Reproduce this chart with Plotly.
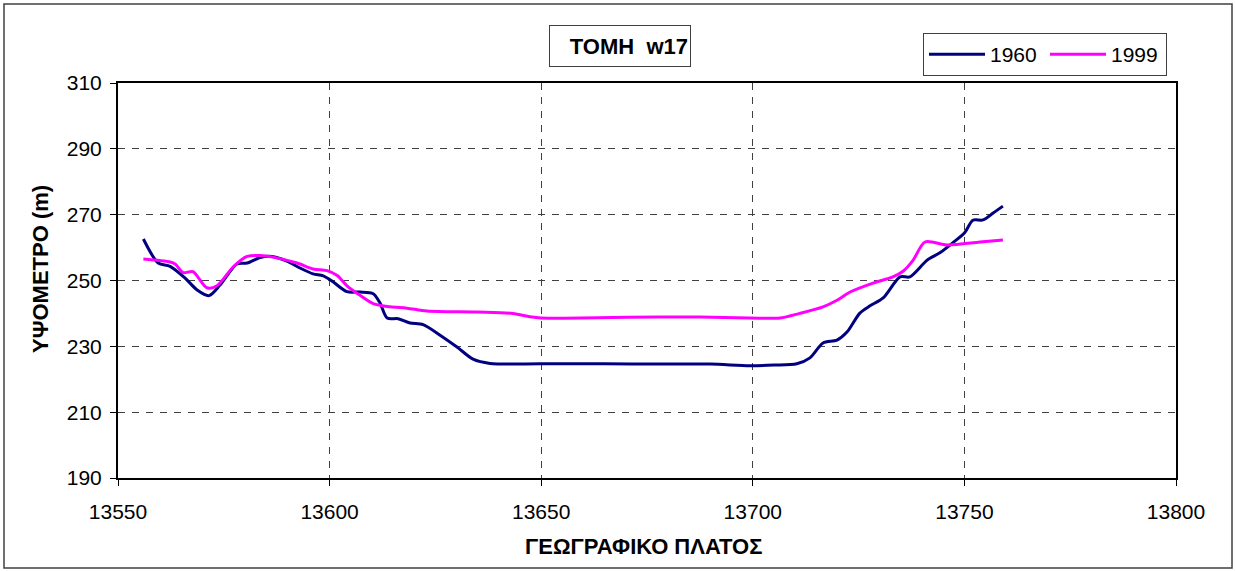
import plotly.graph_objects as go

# ---- data ----
x_1960 = [13556, 13559.5, 13562.3, 13565.8, 13568.7, 13571.5, 13574.1, 13578.1, 13580.5, 13583.6,
          13586.4, 13589.9, 13593, 13596.1, 13598.5, 13600.8, 13604.1, 13607.2, 13610.3, 13611.9,
          13613.6, 13616.2, 13619, 13622.1, 13626.1, 13630.1, 13633.9, 13637.9, 13650, 13665,
          13678, 13690, 13699.3, 13705, 13710.4, 13713.5, 13716.6, 13719.9, 13722.3, 13725.3,
          13727.7, 13730.8, 13734.8, 13737.1, 13741.2, 13744.2, 13747.3, 13750.1, 13752, 13754.4,
          13756.8, 13759.1]
y_1960 = [262.6, 255.3, 254.3, 250.8, 247.1, 245.4, 248.6, 255.0, 255.3, 257.0,
          257.3, 255.9, 253.8, 252.0, 251.4, 249.6, 246.6, 246.5, 246.0, 243.2,
          238.6, 238.4, 237.1, 236.6, 233.4, 229.8, 226.1, 224.8, 224.7, 224.7,
          224.6, 224.6, 224.1, 224.3, 224.7, 226.5, 231.0, 231.9, 234.4, 240.1,
          242.3, 244.7, 251.1, 251.1, 256.2, 258.4, 261.5, 264.6, 268.3, 268.4,
          270.5, 272.6]

x_1999 = [13556, 13562.3, 13563.5, 13565.4, 13567.7, 13571, 13573.4, 13577.2, 13580.5, 13583.6,
          13586.6, 13592.3, 13596.1, 13599.4, 13601.8, 13604.1, 13607.2, 13610.3, 13614.3, 13618.3,
          13623, 13634.8, 13643.3, 13647.3, 13650, 13663.2, 13678, 13687.5, 13699.3, 13706.4,
          13711.1, 13716.6, 13719.9, 13723, 13728.4, 13733.1, 13735.5, 13737.9, 13740.7, 13745.9,
          13753.7, 13759.1]
y_1999 = [256.5, 255.6, 255.0, 252.4, 252.7, 247.8, 248.4, 254.1, 257.3, 257.6,
          257.1, 255.3, 253.5, 253.0, 251.5, 248.4, 245.5, 243.0, 242.0, 241.6,
          240.7, 240.4, 240.0, 239.0, 238.6, 238.7, 238.9, 238.9, 238.6, 238.6,
          240.0, 242.0, 244.0, 246.5, 249.2, 251.1, 252.8, 256.2, 261.7, 260.8,
          261.7, 262.3]

series_names = ["1960", "1999"]
x_ticks = [13550, 13600, 13650, 13700, 13750, 13800]
y_ticks = [190, 210, 230, 250, 270, 290, 310]
chart_title = "ΤΟΜΗ\u00a0 w17"
x_title = "ΓΕΩΓΡΑΦΙΚΟ ΠΛΑΤΟΣ"
y_title = "ΥΨΟΜΕΤΡΟ (m)"

FONT = "Arial, 'Liberation Sans', sans-serif"
W, H = 1235, 571
L, R, T, B = 118, 59, 83, 93
PW, PH = W - L - R, H - T - B


def px_x(p):
    return (p - L) / PW


def px_y(p):
    return (H - B - p) / PH


fig = go.Figure()
fig.add_trace(go.Scatter(x=x_1960, y=y_1960, name=series_names[0], mode="lines",
                         line=dict(color="#000080", width=3, shape="spline", smoothing=0.8)))
fig.add_trace(go.Scatter(x=x_1999, y=y_1999, name=series_names[1], mode="lines",
                         line=dict(color="#FF00FF", width=3, shape="spline", smoothing=0.8)))

axis_common = dict(
    showline=True, mirror=True, linecolor="black", linewidth=2,
    ticks="outside", ticklen=6, tickcolor="black", tickwidth=1,
    showgrid=True, gridcolor="#404040", gridwidth=1, griddash="7px,7px",
    zeroline=False, automargin=False,
    tickfont=dict(family=FONT, size=21, color="black"),
)

fig.update_xaxes(range=[13550, 13800], tickvals=x_ticks, ticktext=[str(v) for v in x_ticks],
                 ticklabelstandoff=8, **axis_common)
fig.update_yaxes(range=[190, 310], tickvals=y_ticks, ticktext=[str(v) for v in y_ticks],
                 ticklabelstandoff=4, **axis_common)

fig.update_layout(
    width=W, height=H,
    margin=dict(l=L, r=R, t=T, b=B, pad=0, autoexpand=False),
    paper_bgcolor="white", plot_bgcolor="white",
    font=dict(family=FONT, color="black"),
    showlegend=True,
    legend=dict(
        orientation="h", x=px_x(923), y=px_y(33), xanchor="left", yanchor="top",
        bordercolor="#404040", borderwidth=1, bgcolor="white",
        font=dict(family=FONT, size=21, color="black"),
        itemwidth=56, entrywidth=50, entrywidthmode="pixels",
    ),
    shapes=[
        dict(type="rect", xref="paper", yref="paper",
             x0=px_x(4), x1=px_x(1232), y0=px_y(568), y1=px_y(4),
             line=dict(color="#404040", width=1.5), fillcolor="rgba(0,0,0,0)", layer="below"),
    ],
    annotations=[
        dict(text="<b>" + chart_title + "</b>", xref="paper", yref="paper",
             x=px_x(620), y=px_y(46), xanchor="center", yanchor="middle",
             showarrow=False, font=dict(family=FONT, size=22, color="black"),
             width=136, height=36, align="right", valign="middle",
             bordercolor="#404040", borderwidth=1, borderpad=2, bgcolor="white"),
        dict(text="<b>" + x_title + "</b>", xref="paper", yref="paper",
             x=px_x(643), y=px_y(546), xanchor="center", yanchor="middle",
             showarrow=False, font=dict(family=FONT, size=22, color="black")),
        dict(text="<b>" + y_title + "</b>", xref="paper", yref="paper",
             x=px_x(40), y=px_y(269), xanchor="center", yanchor="middle",
             textangle=-90, showarrow=False, font=dict(family=FONT, size=22, color="black")),
    ],
)

fig.write_html("out.html", config={"displayModeBar": False},
               post_script="document.body.style.margin='0';document.body.style.overflow='hidden';")
